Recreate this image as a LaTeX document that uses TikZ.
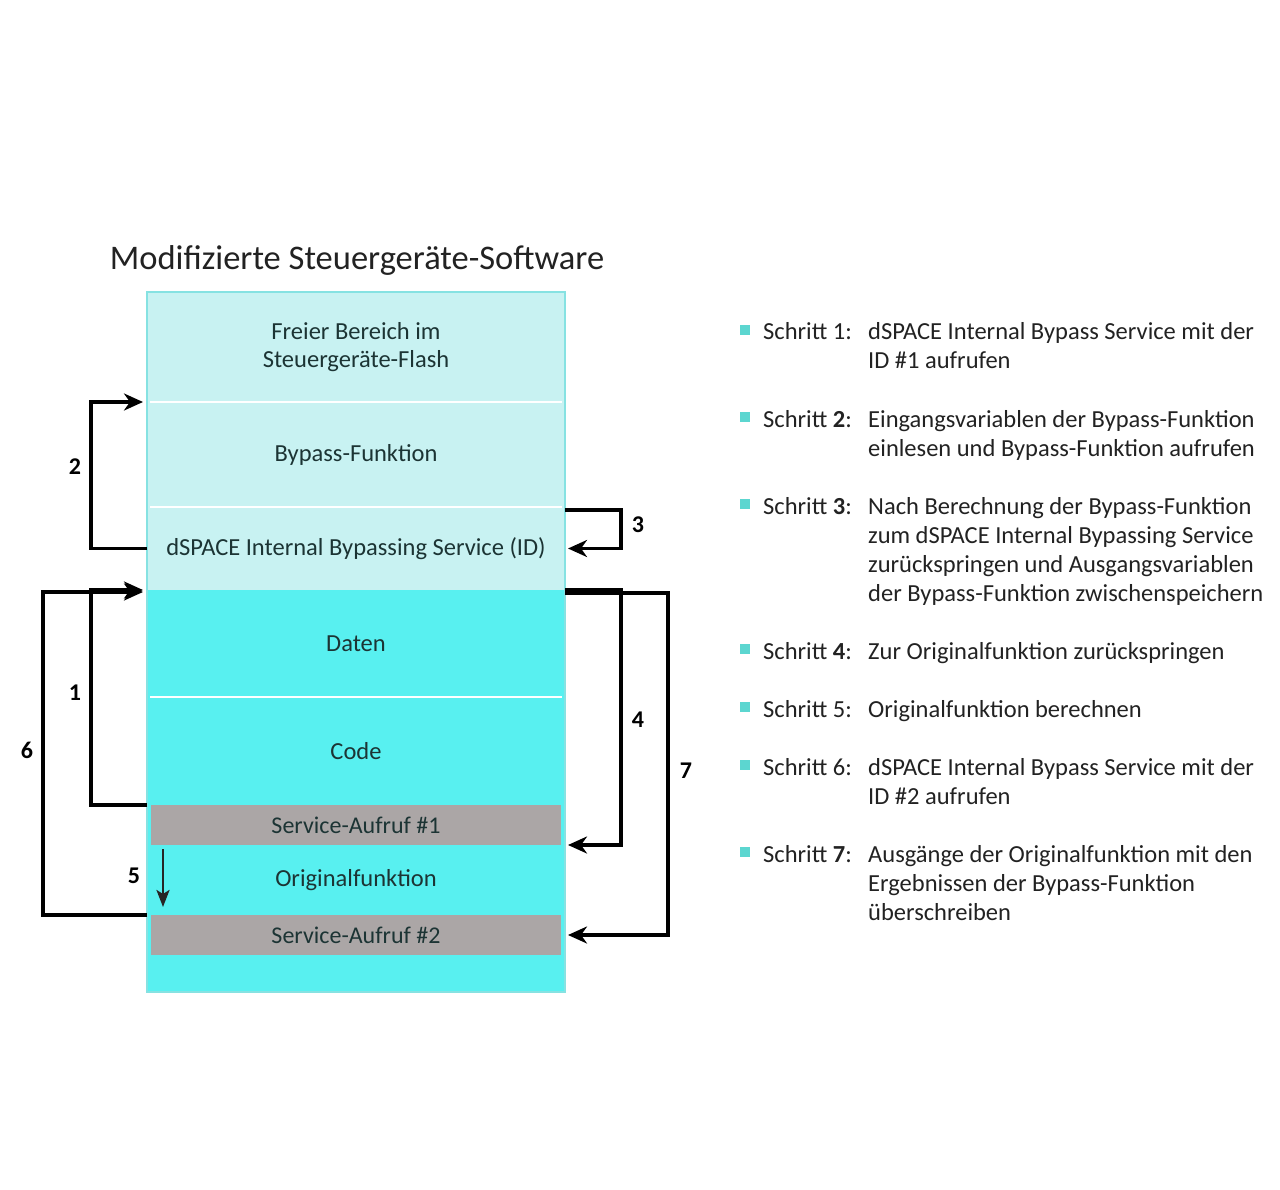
\documentclass[tikz,border=0pt]{standalone}
\usepackage{fontspec}
\setmainfont{Carlito}
\usetikzlibrary{arrows.meta}
\definecolor{pale}{HTML}{C8F2F2}
\definecolor{bright}{HTML}{58F0F0}
\definecolor{edgecol}{HTML}{86E2E2}
\definecolor{greybox}{HTML}{ABA6A6}
\definecolor{boxtxt}{HTML}{1C3434}
\definecolor{txt}{HTML}{222222}
\definecolor{bullet}{HTML}{5CD6D0}
\begin{document}
\begin{tikzpicture}[x=1pt,y=-1pt,
  region/.style={rectangle, inner sep=0pt, outer sep=0pt, minimum width=418pt, align=center,
     text=boxtxt, font=\fontsize{24.5}{28}\selectfont},
  grey/.style={rectangle, inner sep=0pt, outer sep=0pt, minimum width=410pt, minimum height=40pt,
     fill=greybox, text=boxtxt, font=\fontsize{24}{28}\selectfont},
  conn/.style={line width=3.4pt, draw=black, -{Stealth[length=19pt,width=17pt,inset=6pt]}},
  thinconn/.style={line width=2.8pt, draw=black!85, -{Stealth[length=17pt,width=13pt,inset=4pt]}},
  num/.style={font=\bfseries\fontsize{24}{26}\selectfont, text=black},
  stp/.style={anchor=base west, inner sep=0pt, text=txt, font=\fontsize{24.5}{29}\selectfont},
  bul/.style={fill=bullet}
]
\useasboundingbox[fill=white] (0,0) rectangle (1280,1190);

% title
\node[font=\fontsize{34.5}{38}\selectfont, text=txt] (title) at (357,260) {Modifizierte Steuergeräte-Software};

% regions
\node[region, fill=pale, minimum height=110pt] (free) at (356,347) {Freier Bereich im\\Steuergeräte-Flash};
\node[region, fill=pale, minimum height=105pt] (bypass) at (356,454.5) {Bypass-Funktion};
\node[region, fill=pale, minimum height=83pt] (dsp) at (356,548.5) {dSPACE Internal Bypassing Service (ID)};
\node[region, fill=bright, minimum height=107pt] (daten) at (356,643.5) {Daten};
\node[region, fill=bright, minimum height=108pt] (code) at (356,751) {Code};
\node[region, fill=bright, minimum height=40pt] (sa1bg) at (356,825) {};
\node[grey] (sa1) at (356,825) {Service-Aufruf \#1};
\node[region, fill=bright, minimum height=70pt] (orig) at (356,880) {Originalfunktion};
\node[region, fill=bright, minimum height=40pt] (sa2bg) at (356,935) {};
\node[grey] (sa2) at (356,935) {Service-Aufruf \#2};
\node[region, fill=bright, minimum height=37pt] (bottom) at (356,973.5) {};

% separators and frame
\draw[white, line width=2.5pt] ([xshift=3pt]bypass.north west) -- ([xshift=-3pt]bypass.north east);
\draw[white, line width=2.5pt] ([xshift=3pt]dsp.north west) -- ([xshift=-3pt]dsp.north east);
\draw[white, line width=2.5pt] ([xshift=3pt]code.north west) -- ([xshift=-3pt]code.north east);
\draw[edgecol, line width=2.5pt] (free.north west) rectangle (bottom.south east);

% connectors
\draw[conn, shorten >=4pt] (dsp.west) -- ++(-56,0) |- (bypass.north west);
\draw[conn, shorten >=3pt] ([yshift=-3pt]dsp.north east) -- ++(56,0) |- (dsp.east);
\draw[conn, shorten >=4pt] (code.south west) -- ++(-56,0) |- (daten.north west);
\draw[conn, shorten >=4pt] (orig.south west) -- ++(-104,0) |- ([yshift=-2pt]daten.north west);
\draw[conn, shorten >=3pt] (daten.north east) -- ++(56,0) |- (orig.north east);
\draw[conn, shorten >=7pt] ([yshift=-3pt]daten.north east) -- ++(103,0) |- (sa2.east);
\draw[thinconn] ([xshift=16pt,yshift=-4pt]orig.north west) -- ([xshift=16pt,yshift=-62pt]orig.north west);

% step numbers
\node[num] (n1) at (75,693) {1};
\node[num] (n2) at (75,467) {2};
\node[num] (n3) at (638,525) {3};
\node[num] (n4) at (638,720) {4};
\node[num] (n5) at (134,876) {5};
\node[num] (n6) at (27,750) {6};
\node[num] (n7) at (686,771) {7};

% legend
\foreach \y/\lab/\txt in {
  340/{Schritt 1:}/{dSPACE Internal Bypass Service mit der\\ID \#1 aufrufen},
  427/{Schritt \textbf{2}:}/{Eingangsvariablen der Bypass-Funktion\\einlesen und Bypass-Funktion aufrufen},
  514/{Schritt \textbf{3}:}/{Nach Berechnung der Bypass-Funktion\\zum dSPACE Internal Bypassing Service\\zurückspringen und Ausgangsvariablen\\der Bypass-Funktion zwischenspeichern},
  659/{Schritt \textbf{4}:}/{Zur Originalfunktion zurückspringen},
  717/{Schritt 5:}/{Originalfunktion berechnen},
  775/{Schritt 6:}/{dSPACE Internal Bypass Service mit der\\ID \#2 aufrufen},
  862/{Schritt \textbf{7}:}/{Ausgänge der Originalfunktion mit den\\Ergebnissen der Bypass-Funktion\\überschreiben}} {
  \fill[bul] (740,{\y-15}) rectangle (750,{\y-5});
  \node[stp] (lab\y) at (763,\y) {\lab};
  \node[stp] (txt\y) at (868,\y) {\begin{tabular}[t]{@{}l@{}}\txt\end{tabular}};
}
\end{tikzpicture}
\end{document}
